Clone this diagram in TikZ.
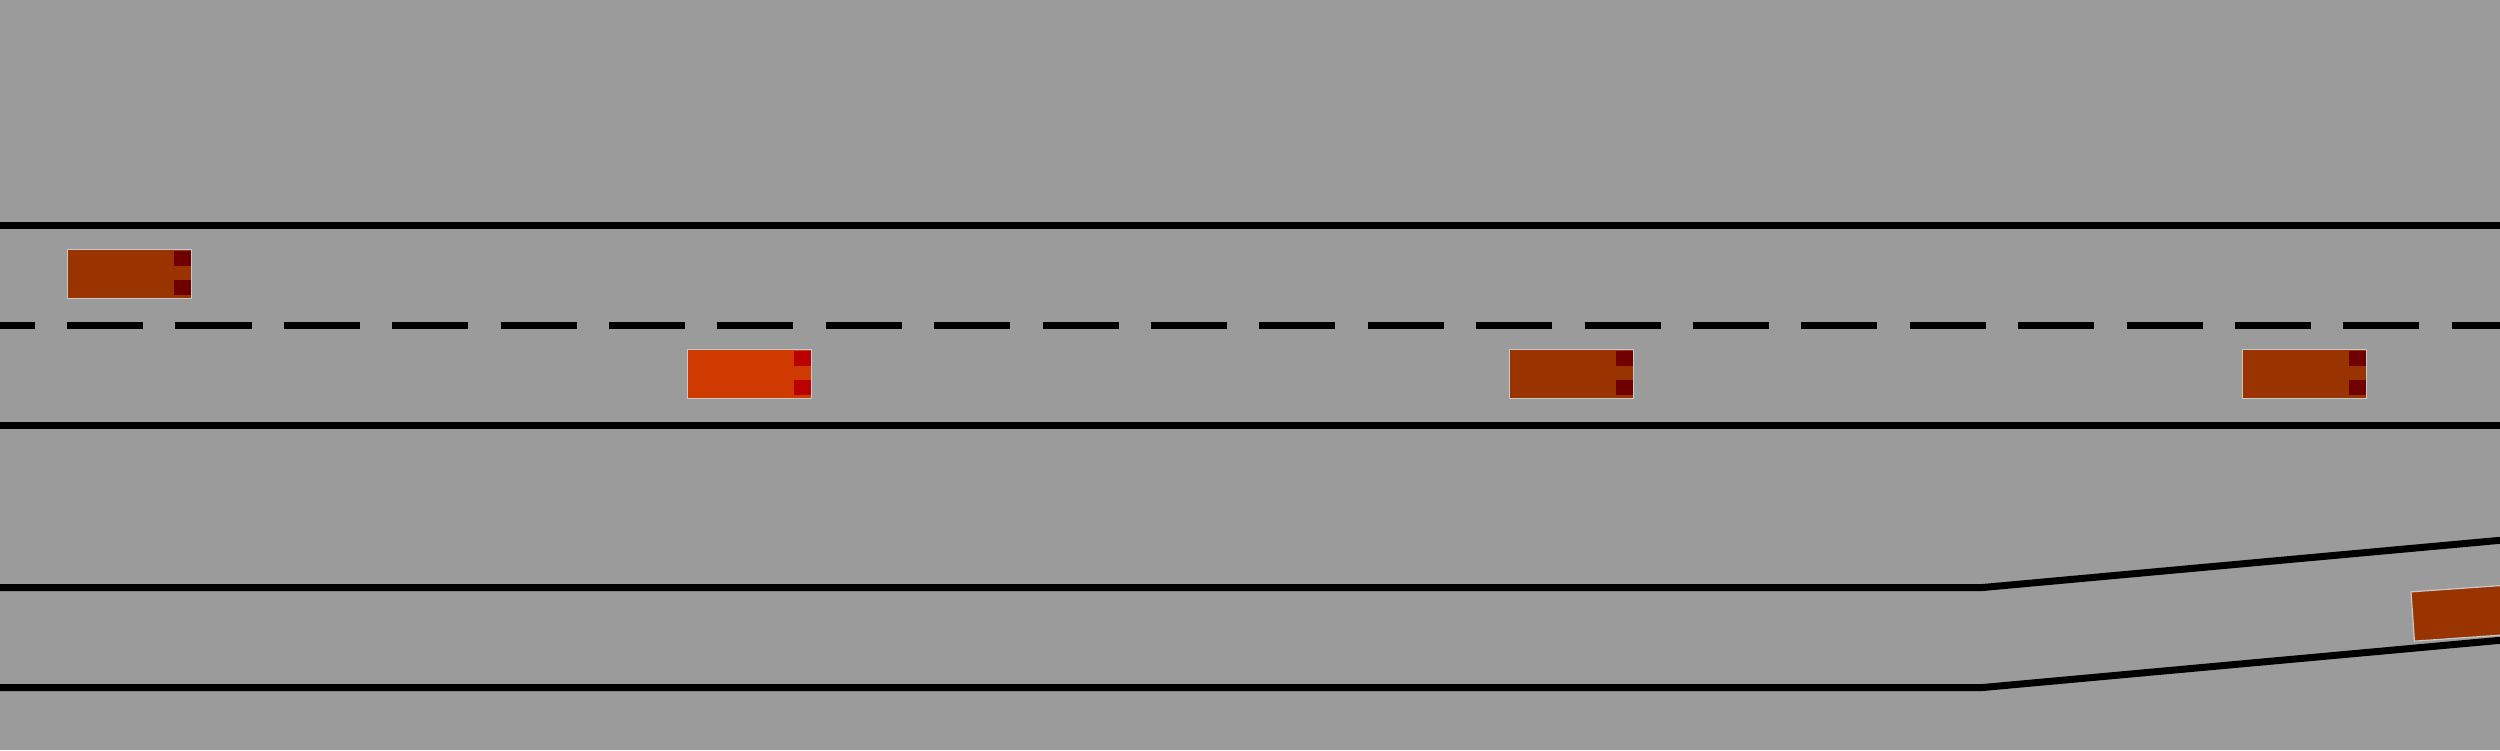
\documentclass[tikz,border=0pt]{standalone}
\definecolor{bg}{HTML}{9B9B9B}
\definecolor{carbody}{HTML}{993300}
\definecolor{carlight}{HTML}{700000}
\definecolor{egobody}{HTML}{CF3A00}
\definecolor{egolight}{HTML}{BB0000}
\definecolor{carrim}{HTML}{C8C8C8}
\tikzset{
  roadline/.style={line width=0.07cm, black},
  laneline/.style={roadline, dash pattern=on 0.76cm off 0.3233cm, dash phase=0.413cm},
  carshape/.style={line width=0.012cm, draw=carrim},
}
% #1 left x, #2 top y (image coords), #3 body colour, #4 light colour
\newcommand{\drawcar}[4]{%
  \begin{scope}[shift={(#1,{750-#2})}]
    \filldraw[carshape, fill=#3] (0,0) rectangle (124.5,-49.5);
    \fill[#4] (106.7,-1.4) rectangle (123.7,-16.4);
    \fill[#4] (106.7,-30.7) rectangle (123.7,-45.7);
  \end{scope}}
\begin{document}
\begin{tikzpicture}[x=0.01cm,y=0.01cm]
\useasboundingbox (0,0) rectangle (2500,750);
\clip (0,0) rectangle (2500,750);
\fill[bg] (0,0) rectangle (2500,750);
% main road
\draw[roadline] (0,524.5) -- (2500,524.5);
\draw[laneline] (0,424.5) -- (2500,424.5);
\draw[roadline] (0,324.5) -- (2500,324.5);
% ramp
\coordinate (k1) at (1982.7,162.5);
\coordinate (k2) at (1982.7,62.5);
\draw[roadline] (0,162.5) -- (k1) -- (2500,209.7);
\draw[roadline] (0,62.5) -- (k2) -- (2500,109.7);
% cars
\drawcar{67.3}{249.3}{carbody}{carlight}
\drawcar{687.3}{349.3}{egobody}{egolight}
\drawcar{1509.3}{349.3}{carbody}{carlight}
\drawcar{2242.3}{349.3}{carbody}{carlight}
% merging car on ramp
\begin{scope}[shift={(2412.7,133.5)}, rotate=4]
  \filldraw[carshape, fill=carbody] (0,-24.7) rectangle (124.5,24.7);
  \fill[carlight] (106.7,23.3) rectangle (123.7,8.3);
  \fill[carlight] (106.7,-6) rectangle (123.7,-21);
\end{scope}
\end{tikzpicture}
\end{document}
